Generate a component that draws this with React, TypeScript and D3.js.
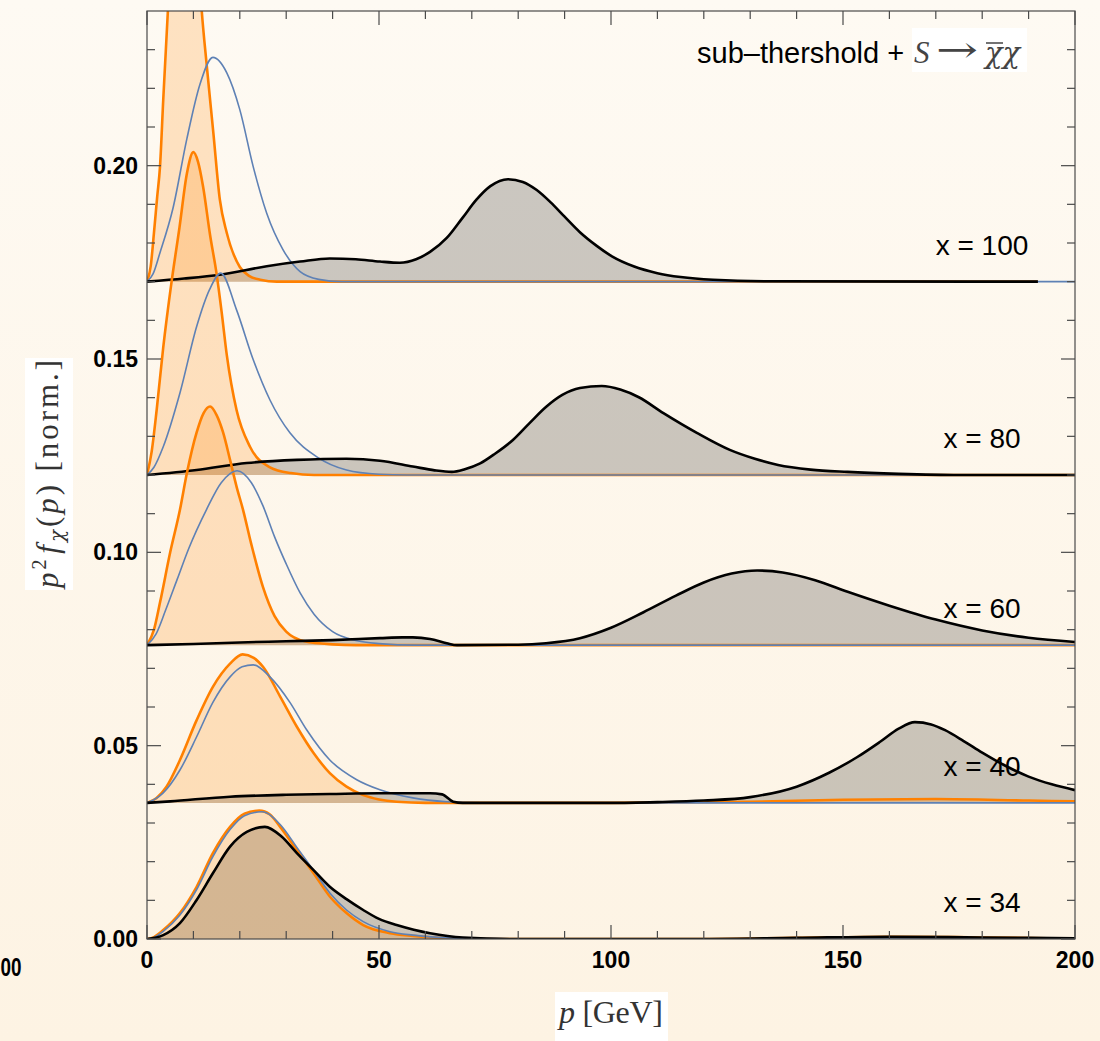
import React from 'react';
import * as d3 from 'd3';

const W = 1100;
const H = 1041;

// ---- axis / label data ----
const xMajorTicks = [0, 50, 100, 150, 200];
const yMajorTicks = [0, 0.05, 0.1, 0.15, 0.2];
const panelLabels = ['x = 100', 'x = 80', 'x = 60', 'x = 40', 'x = 34'];
const panelBaselines = [0.17, 0.12, 0.076, 0.0352, 0];

// ---- series: [p (GeV), height above panel baseline] ----
const orange100: [number, number][] = [[0,0],[0.8,0.004],[1.5,0.0126],[2.2,0.022],[2.8,0.0297],[3.5,0.047],[4.5,0.07],[5.5,0.092],[6.5,0.108],[7.5,0.117],[8.5,0.118],[9.5,0.11],[10.5,0.095],[11.8,0.07],[12.9,0.0556],[14.3,0.0385],[15.7,0.0212],[17.2,0.0126],[20,0.0038],[22,0.0015],[24.4,0.0005],[28,0],[192,0]];
const blue100: [number, number][] = [[0,0],[1.3,0.002],[2.8,0.0075],[5.6,0.019],[8.6,0.037],[11.4,0.051],[14.2,0.058],[17.2,0.054],[20,0.0445],[22.9,0.0297],[25.8,0.0177],[29.3,0.0083],[33,0.0026],[37,0.0006],[42,0],[200,0]];
const black100: [number, number][] = [[0,0],[8,0.0008],[15.7,0.0018],[25.8,0.004],[33,0.0052],[39.4,0.006],[45,0.0058],[50.2,0.0052],[54.5,0.0049],[58,0.0058],[61,0.0077],[64.6,0.0113],[68,0.0165],[71,0.0212],[74,0.0247],[77.8,0.0265],[81,0.0258],[84,0.0237],[87,0.0205],[90,0.0168],[93.3,0.0128],[97,0.0092],[100.4,0.0064],[105,0.0039],[110,0.0022],[115,0.0012],[122,0.0005],[135,0.0001],[192,0]];

const orange80: [number, number][] = [[0,0],[1,0.006],[2.1,0.017],[3.5,0.033],[5.3,0.05],[7,0.064],[8.6,0.078],[10,0.0835],[11,0.081],[12.1,0.0745],[13.6,0.062],[15,0.052],[16.1,0.042],[17.2,0.031],[19.3,0.0168],[22.2,0.0073],[26.5,0.002],[31,0.0005],[36,0],[200,0]];
const blue80: [number, number][] = [[0,0],[1.5,0.002],[3.5,0.0073],[7.1,0.0212],[10.7,0.0384],[13.5,0.048],[15.9,0.0522],[19.3,0.0427],[22.9,0.0298],[26.5,0.0194],[30.8,0.0109],[36.6,0.0047],[43,0.0013],[50,0.0002],[56,0],[200,0]];
const black80: [number, number][] = [[0,0],[10.7,0.0013],[21.5,0.0031],[32.3,0.0039],[43,0.0042],[50.2,0.0037],[57.3,0.0022],[62,0.0012],[65.7,0.0008],[68.5,0.0015],[71.8,0.003],[75,0.0055],[78.8,0.009],[82.5,0.0135],[86.1,0.0177],[89.5,0.0207],[93.3,0.0225],[98,0.023],[102,0.0221],[106,0.0201],[111.3,0.016],[118.5,0.0109],[125.6,0.0065],[131,0.0042],[136,0.0026],[143,0.0014],[151,0.0008],[162,0.0003],[175,0],[200,0]];

const orange60: [number, number][] = [[0,0],[1.5,0.004],[2.8,0.011],[5,0.024],[7.1,0.035],[8.6,0.0445],[10.7,0.055],[12.2,0.06],[13.6,0.0617],[15,0.0595],[16.4,0.055],[17.9,0.0479],[19.3,0.041],[20.7,0.035],[22.5,0.026],[25,0.015],[27.5,0.0075],[30,0.0035],[34,0.001],[40,0.0002],[45,0],[200,0]];
const blue60: [number, number][] = [[0,0],[2,0.003],[4,0.009],[6.5,0.017],[9,0.025],[12.8,0.035],[16,0.042],[19.4,0.0451],[22.5,0.042],[25,0.036],[27.5,0.028],[30,0.021],[33,0.0135],[36,0.008],[40,0.0035],[45,0.0012],[50,0.0004],[58,0],[200,0]];
const black60: [number, number][] = [[0,0],[10,0.0003],[20,0.0007],[30,0.001],[40,0.0013],[50.2,0.0018],[55,0.002],[57.3,0.002],[61,0.0016],[64.6,0.0005],[66.8,0],[80,0.0001],[86,0.0005],[93.3,0.0018],[100,0.0045],[107,0.0085],[114,0.0128],[120,0.0162],[126,0.0185],[131.5,0.0193],[137,0.0188],[144,0.0168],[151,0.0138],[160,0.0102],[170,0.0066],[180,0.0038],[190,0.0019],[200,0.0008]];

const orange40: [number, number][] = [[0,0],[2,0.0012],[4.2,0.0042],[7.1,0.0111],[10.7,0.0214],[14.2,0.03],[17.9,0.036],[20.6,0.0384],[23,0.0375],[25,0.0352],[28.7,0.0275],[32.3,0.0197],[35.9,0.0129],[39.4,0.0077],[43,0.0042],[46.6,0.002],[50,0.0009],[53.8,0.0003],[60,0],[100,0],[130,0.0003],[150,0.0008],[170,0.001],[190,0.0006],[200,0.0004]];
const blue40: [number, number][] = [[0,0],[1.5,0.0008],[3.5,0.0026],[7.1,0.0085],[10.7,0.0171],[14.2,0.026],[17.9,0.0326],[20.5,0.0352],[22.9,0.0357],[26.5,0.0326],[30.8,0.026],[34.4,0.0189],[39.4,0.0111],[45.2,0.006],[50.2,0.0034],[57.3,0.0013],[64.6,0.0003],[72,0],[200,0]];
const black40: [number, number][] = [[0,0],[5,0.0004],[17.9,0.0016],[30,0.0021],[39.4,0.0023],[50,0.0025],[61,0.0025],[63.6,0.0022],[66,0.0003],[68,0],[100,0],[110,0.0002],[120,0.0006],[130,0.0015],[140,0.0042],[147,0.0078],[153,0.0118],[158,0.0158],[162,0.0192],[165.5,0.0209],[169,0.0203],[172,0.0188],[176,0.016],[180,0.013],[185,0.0096],[190,0.0068],[195,0.0048],[200,0.0033]];

const orange34: [number, number][] = [[0,0],[1.5,0.0005],[3.5,0.0023],[7.1,0.0067],[10.7,0.0135],[14.2,0.0222],[17.9,0.029],[21,0.0324],[24.2,0.0332],[26.5,0.0322],[28.7,0.029],[32.3,0.023],[35.9,0.017],[39.4,0.011],[43,0.0067],[46.6,0.0036],[52.4,0.0015],[57.3,0.0008],[65,0.0002],[75,0],[120,0],[140,0.0003],[160,0.0006],[180,0.0004],[200,0.0001]];
const blue34: [number, number][] = [[0,0],[1.5,0.0004],[3.5,0.002],[7.1,0.0062],[10.7,0.0128],[14.2,0.0213],[17.9,0.0283],[21,0.0319],[24.8,0.0329],[28.7,0.0296],[32.3,0.0237],[35.9,0.0177],[39.4,0.0119],[43,0.0075],[46.6,0.0045],[52.4,0.0019],[57.3,0.001],[65,0.0003],[75,0.0001],[90,0],[200,0]];
const black34: [number, number][] = [[0,0],[3.5,0.001],[7.1,0.0041],[10.7,0.0101],[14.2,0.017],[17.9,0.0239],[21.5,0.0277],[25.4,0.029],[29,0.0265],[32.3,0.0222],[35.9,0.0178],[39.4,0.0135],[43,0.0103],[46.6,0.0075],[50,0.0052],[53.8,0.0036],[57.5,0.0024],[61,0.0015],[68.1,0.0004],[80,0],[120,0],[140,0.0003],[160,0.0006],[180,0.0004],[200,0.0002]];

const panels = [
  { label: panelLabels[0], base: panelBaselines[0], orange: orange100, blue: blue100, black: black100 },
  { label: panelLabels[1], base: panelBaselines[1], orange: orange80, blue: blue80, black: black80 },
  { label: panelLabels[2], base: panelBaselines[2], orange: orange60, blue: blue60, black: black60 },
  { label: panelLabels[3], base: panelBaselines[3], orange: orange40, blue: blue40, black: black40 },
  { label: panelLabels[4], base: panelBaselines[4], orange: orange34, blue: blue34, black: black34 },
];

const ORANGE = '#ff8000';
const BLUE = '#5e81b5';
const FRAME = '#4a4a4a';
const SANS = '"Liberation Sans", Arial, Helvetica, sans-serif';
const SERIF = '"Liberation Serif", "Times New Roman", serif';
const MATH = '"DejaVu Serif", "Liberation Serif", serif';

export default function App() {
  const x = d3.scaleLinear().domain([0, 200]).range([147, 1075]);
  const y = d3.scaleLinear().domain([0, 0.24]).range([939, 11]);
  const [x0, x1] = x.range();
  const [yb, yt] = y.range();

  const areaFor = (base: number) =>
    d3.area<[number, number]>()
      .x(d => x(d[0]))
      .y0(y(base))
      .y1(d => y(base + d[1]))
      .curve(d3.curveMonotoneX);
  const lineFor = (base: number) =>
    d3.line<[number, number]>()
      .x(d => x(d[0]))
      .y(d => y(base + d[1]))
      .curve(d3.curveMonotoneX);

  const xMinor = x.ticks(20).filter(t => !xMajorTicks.includes(t));
  const yMinor = d3.range(0, 24).map(i => i / 100).filter(t => !yMajorTicks.some(m => Math.abs(m - t) < 1e-9));

  return (
    <svg width={W} height={H} style={{ position: 'absolute', left: 0, top: 0, display: 'block' }}>
      <defs>
        <linearGradient id="bg" x1="0" y1="0" x2="0" y2="1">
          <stop offset="0" stopColor="#fefaf3" />
          <stop offset="1" stopColor="#fdf3e3" />
        </linearGradient>
        <clipPath id="plotClip">
          <rect x={x0} y={yt} width={x1 - x0} height={yb - yt} />
        </clipPath>
      </defs>
      <rect x={0} y={0} width={W} height={H} fill="url(#bg)" />

      <g clipPath="url(#plotClip)">
        {panels.map((pn, i) => (
          <g key={'f' + i}>
            <path d={areaFor(pn.base)(pn.black) || ''} fill="rgba(0,0,0,0.2)" />
            <path d={areaFor(pn.base)(pn.orange) || ''} fill="rgba(255,128,0,0.2)" />
          </g>
        ))}
        {panels.map((pn, i) => (
          <g key={'l' + i} fill="none" strokeLinejoin="round">
            <path d={lineFor(pn.base)(pn.orange) || ''} stroke={ORANGE} strokeWidth={2.6} />
            <path d={lineFor(pn.base)(pn.blue) || ''} stroke={BLUE} strokeWidth={1.6} />
            <path d={lineFor(pn.base)(pn.black) || ''} stroke="#000" strokeWidth={2.6} />
          </g>
        ))}
      </g>

      {/* frame */}
      <rect x={x0} y={yt} width={x1 - x0} height={yb - yt} fill="none" stroke={FRAME} strokeWidth={1.2} />

      {/* ticks */}
      <g stroke={FRAME} strokeWidth={1.2}>
        {xMajorTicks.map(t => (
          <g key={'xM' + t}>
            <line x1={x(t)} x2={x(t)} y1={yb} y2={yb - 14} />
            <line x1={x(t)} x2={x(t)} y1={yt} y2={yt + 14} />
          </g>
        ))}
        {xMinor.map(t => (
          <g key={'xm' + t}>
            <line x1={x(t)} x2={x(t)} y1={yb} y2={yb - 8} />
            <line x1={x(t)} x2={x(t)} y1={yt} y2={yt + 8} />
          </g>
        ))}
        {yMajorTicks.map(t => (
          <g key={'yM' + t}>
            <line x1={x0} x2={x0 + 14} y1={y(t)} y2={y(t)} />
            <line x1={x1} x2={x1 - 14} y1={y(t)} y2={y(t)} />
          </g>
        ))}
        {yMinor.map(t => (
          <g key={'ym' + t}>
            <line x1={x0} x2={x0 + 8} y1={y(t)} y2={y(t)} />
            <line x1={x1} x2={x1 - 8} y1={y(t)} y2={y(t)} />
          </g>
        ))}
      </g>

      {/* tick labels */}
      <g fontFamily={SANS} fontWeight="bold" fontSize={23} fill="#000">
        {xMajorTicks.map(t => (
          <text key={'xl' + t} x={x(t)} y={968} textAnchor="middle">{t}</text>
        ))}
        {yMajorTicks.map(t => (
          <text key={'yl' + t} x={138} y={y(t) + 8} textAnchor="end">{t.toFixed(2)}</text>
        ))}
        <text x={0.5} y={976} fontSize={25} textLength={21} lengthAdjust="spacingAndGlyphs">00</text>
      </g>

      {/* panel labels */}
      <g fontFamily={SANS} fontSize={28} fill="#000">
        {panels.map((pn, i) => (
          <text key={'pl' + i} x={982} y={y(pn.base) - 27} textAnchor="middle">{pn.label}</text>
        ))}
      </g>

      {/* title */}
      <text x={697} y={63} fontFamily={SANS} fontSize={29} fill="#000">sub–thershold +</text>
      <rect x={912} y={28} width={115} height={44} fill="#ffffff" />
      <g fill="#444">
        <text x={914} y={63} fontFamily={SERIF} fontSize={31} fontStyle="italic">S</text>
        <text x={936} y={62} fontFamily={MATH} fontSize={36} textLength={42} lengthAdjust="spacingAndGlyphs">→</text>
        <text x={985} y={63} fontFamily={MATH} fontSize={29} fontStyle="italic">χχ</text>
      </g>
      <line x1={986} x2={1003} y1={43} y2={43} stroke="#444" strokeWidth={1.5} />

      {/* y axis label */}
      <rect x={25} y={358} width={48} height={232} fill="#ffffff" />
      <text transform="translate(58,474) rotate(-90)" textAnchor="middle" fontFamily={SERIF} fontSize={31} fill="#333" textLength={228} lengthAdjust="spacing">
        <tspan fontStyle="italic">p</tspan>
        <tspan dy={-12} fontSize={20}>2</tspan>
        <tspan dy={12} dx={3} fontStyle="italic">f</tspan>
        <tspan dy={6} fontSize={20} fontStyle="italic" fontFamily={MATH}>χ</tspan>
        <tspan dy={-6}>(</tspan>
        <tspan fontStyle="italic">p</tspan>
        <tspan>) [norm.]</tspan>
      </text>

      {/* x axis label */}
      <rect x={555} y={992} width={113} height={49} fill="#ffffff" />
      <text x={559} y={1023} fontFamily={SERIF} fontSize={32} fill="#333" textLength={104} lengthAdjust="spacing">
        <tspan fontStyle="italic">p</tspan>
        <tspan> [GeV]</tspan>
      </text>
    </svg>
  );
}
